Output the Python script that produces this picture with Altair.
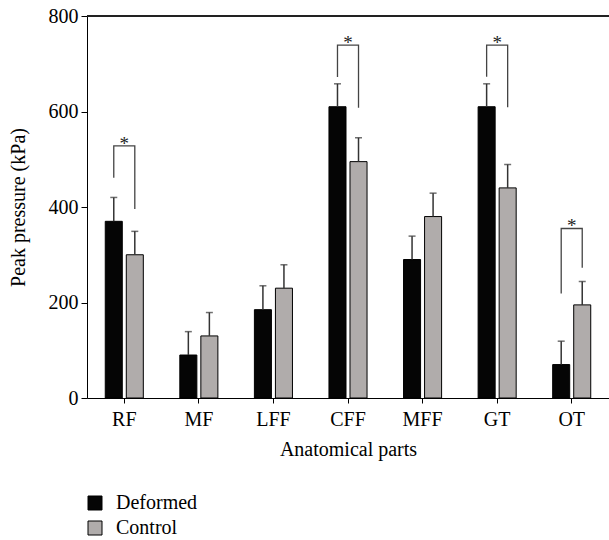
import altair as alt
import pandas as pd

parts = ["RF", "MF", "LFF", "CFF", "MFF", "GT", "OT"]
groups = ["Deformed", "Control"]
deformed = [370, 90, 185, 610, 290, 610, 70]
deformed_err = [420, 139, 235, 658, 339, 658, 119]
control = [300, 130, 230, 495, 380, 440, 195]
control_err = [349, 179, 279, 545, 429, 489, 244]

sig_parts = ["RF", "CFF", "GT", "OT"]
sig_top = [528, 739, 739, 355]
sig_left = [461, 672, 673, 219]
sig_right = [396, 608, 609, 273]

FONT = "Liberation Serif"
FS = 20

rows = []
for i, p in enumerate(parts):
    rows.append({"part": p, "group": "Deformed", "value": deformed[i], "err": deformed_err[i]})
    rows.append({"part": p, "group": "Control", "value": control[i], "err": control_err[i]})
df = pd.DataFrame(rows)

brows = []
for i, p in enumerate(sig_parts):
    brows.append({"part": p, "group": "Deformed", "y": sig_left[i], "o": 0})
    brows.append({"part": p, "group": "Deformed", "y": sig_top[i], "o": 1})
    brows.append({"part": p, "group": "Control", "y": sig_top[i], "o": 2})
    brows.append({"part": p, "group": "Control", "y": sig_right[i], "o": 3})
bdf = pd.DataFrame(brows)
sdf = pd.DataFrame({"part": sig_parts, "top": sig_top})

xenc = alt.X("part:N", sort=parts,
             scale=alt.Scale(paddingInner=0.436, paddingOuter=0.218),
             axis=alt.Axis(title="Anatomical parts", labelAngle=0, tickSize=5,
                           labelPadding=6, titlePadding=10,
                           titleFont=FONT, labelFont=FONT,
                           domainColor="black", tickColor="black"))
xoff = alt.XOffset("group:N", sort=groups,
                   scale=alt.Scale(paddingInner=0.19, paddingOuter=0.095))
yscale = alt.Scale(domain=[0, 800], nice=False)

bars = alt.Chart(df).mark_bar(stroke="black", strokeWidth=1).encode(
    x=xenc,
    xOffset=xoff,
    y=alt.Y("value:Q", scale=yscale,
            axis=alt.Axis(title="Peak pressure (kPa)", values=[0, 200, 400, 600, 800],
                          grid=False, tickSize=6, labelPadding=3, titlePadding=20,
                          titleFont=FONT, labelFont=FONT,
                          domainColor="black", tickColor="black")),
    color=alt.Color("group:N", sort=groups,
                    scale=alt.Scale(domain=groups, range=["#050505", "#b0acab"]),
                    legend=alt.Legend(title=None, orient="none", legendX=-2, legendY=477,
                                      symbolType="square", symbolSize=196,
                                      symbolStrokeColor="black", symbolStrokeWidth=1,
                                      labelFont=FONT, labelFontSize=FS, labelColor="black",
                                      labelOffset=11, rowPadding=5)),
)

errs = alt.Chart(df).mark_rule(color="#333333", strokeWidth=1.5).encode(
    x=alt.X("part:N", sort=parts), xOffset=alt.XOffset("group:N", sort=groups),
    y=alt.Y("value:Q"), y2="err:Q")

caps = alt.Chart(df).mark_tick(color="#333333", thickness=1.5, size=7).encode(
    x=alt.X("part:N", sort=parts), xOffset=alt.XOffset("group:N", sort=groups),
    y=alt.Y("err:Q"))

brackets = alt.Chart(bdf).mark_line(color="#444444", strokeWidth=1.3).encode(
    x=alt.X("part:N", sort=parts), xOffset=alt.XOffset("group:N", sort=groups),
    y=alt.Y("y:Q"), order="o:Q", detail="part:N")

stars = alt.Chart(sdf).mark_text(text="*", font=FONT, fontSize=19,
                                 baseline="alphabetic", dy=4, color="#222222").encode(
    x=alt.X("part:N", sort=parts), y=alt.Y("top:Q"))

topline = alt.Chart(df).mark_rule(color="#222222", strokeWidth=1.2).encode(y=alt.datum(800))

chart = alt.layer(bars, errs, caps, brackets, stars, topline).properties(
    width=522, height=382,
    autosize=alt.AutoSizeParams(type="none"),
    padding={"left": 87, "top": 16, "right": 0, "bottom": 142},
).configure(
    font=FONT,
    style={"guide-label": {"font": FONT}, "guide-title": {"font": FONT}},
).configure_view(stroke=None).configure_axis(
    labelFont=FONT, titleFont=FONT, labelFontSize=FS, titleFontSize=FS,
    labelColor="black", titleColor="black", titleFontWeight="normal",
).configure_legend(labelFont=FONT, labelFontSize=FS, labelColor="black")

chart.save("out.html", embed_options={"renderer": "svg", "actions": False})
